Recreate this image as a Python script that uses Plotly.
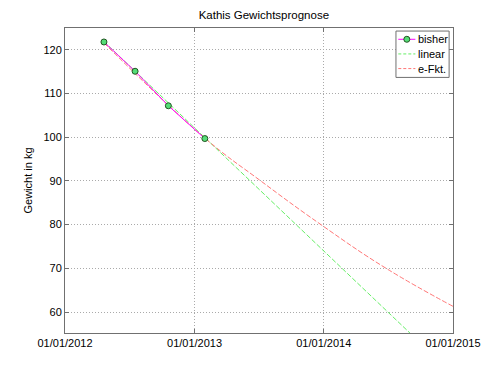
import plotly.graph_objects as go

# Data
bisher_dates = ["2012-04-20", "2012-07-17", "2012-10-19", "2013-01-30"]
bisher_values = [121.8, 115.1, 107.2, 99.7]

linear_dates = ["2012-04-20", "2015-01-01"]
linear_values = [121.9, 45.8]

efkt_dates = ["2012-04-20", "2013-01-30", "2013-07-07", "2013-12-24", "2014-06-26", "2015-01-01"]
efkt_values = [121.6, 99.8, 90.0, 80.0, 70.0, 61.3]

x_ticks = ["2012-01-01", "2013-01-01", "2014-01-01", "2015-01-01"]
x_tick_labels = ["01/01/2012", "01/01/2013", "01/01/2014", "01/01/2015"]
y_ticks = [60, 70, 80, 90, 100, 110, 120]

legend_names = ["bisher", "linear", "e-Fkt."]

font = "Liberation Sans, Arial, sans-serif"
C_BISHER = "#ff00ff"
C_MARK = "#55dd77"
C_MARK_EDGE = "#225522"
C_LIN = "#66ee66"
C_EXP = "#ff7777"
FIT_DASH = "5px,2px"
GRID_DASH = "1px,2px"

fig = go.Figure()
fig.add_trace(go.Scatter(
    x=linear_dates, y=linear_values, mode="lines", name="linear",
    line=dict(color=C_LIN, width=1, dash=FIT_DASH)))
fig.add_trace(go.Scatter(
    x=efkt_dates, y=efkt_values, mode="lines", name="e-Fkt.",
    line=dict(color=C_EXP, width=1, dash=FIT_DASH, shape="spline", smoothing=1.2)))
fig.add_trace(go.Scatter(
    x=bisher_dates, y=bisher_values, mode="lines+markers", name="bisher",
    line=dict(color=C_BISHER, width=1),
    marker=dict(size=6, color=C_MARK, line=dict(color=C_MARK_EDGE, width=1))))

# Custom MATLAB-style legend box (paper coordinates)
lx0, lx1, ly0, ly1 = 0.853, 0.990, 0.838, 0.990
rows = [0.963, 0.915, 0.867]
styles = [(C_BISHER, "solid"), (C_LIN, "3px,2px"), (C_EXP, "3px,2px")]
shapes = [dict(type="rect", xref="paper", yref="paper", x0=lx0, x1=lx1, y0=ly0, y1=ly1,
               fillcolor="white", line=dict(color="#707070", width=1), layer="above")]
annotations = []
for name, yr, (col, dash) in zip(legend_names, rows, styles):
    shapes.append(dict(type="line", xref="paper", yref="paper", x0=0.859, x1=0.903,
                       y0=yr, y1=yr, line=dict(color=col, width=1, dash=dash), layer="above"))
    annotations.append(dict(text=name, xref="paper", yref="paper", x=0.905, y=yr,
                            xanchor="left", yanchor="middle", showarrow=False,
                            font=dict(size=11, color="black")))
shapes.append(dict(type="circle", xref="paper", yref="paper", xsizemode="pixel",
                   ysizemode="pixel", xanchor=0.881, yanchor=rows[0],
                   x0=-3, x1=3, y0=-3, y1=3, fillcolor=C_MARK,
                   line=dict(color=C_MARK_EDGE, width=1), layer="above"))

# page body has an 8px margin, so the figure is sized to fit the window
fig.update_layout(
    width=492, height=366,
    margin=dict(l=57, r=47, t=20, b=41),
    paper_bgcolor="white", plot_bgcolor="white",
    font=dict(family=font, size=11, color="black"),
    title=dict(text="Kathis Gewichtsprognose", x=0.52, xanchor="center",
               y=1 - 7 / 366, yanchor="middle", font=dict(size=11.5)),
    showlegend=False,
    shapes=shapes,
    annotations=annotations,
)
fig.update_xaxes(
    type="date", range=["2012-01-01", "2015-01-01"],
    tickvals=x_ticks, ticktext=x_tick_labels,
    showgrid=True, gridcolor="#aaaaaa", griddash=GRID_DASH, gridwidth=1,
    showline=True, linecolor="#707070", linewidth=1, mirror="ticks",
    ticks="inside", ticklen=4, tickcolor="#707070", zeroline=False,
)
fig.update_yaxes(
    range=[55.2, 125], tickvals=y_ticks,
    title=dict(text="Gewicht in kg", standoff=8, font=dict(size=11)),
    showgrid=True, gridcolor="#aaaaaa", griddash=GRID_DASH, gridwidth=1,
    showline=True, linecolor="#707070", linewidth=1, mirror="ticks",
    ticks="inside", ticklen=4, tickcolor="#707070", zeroline=False,
)

fig.write_html("out.html")
